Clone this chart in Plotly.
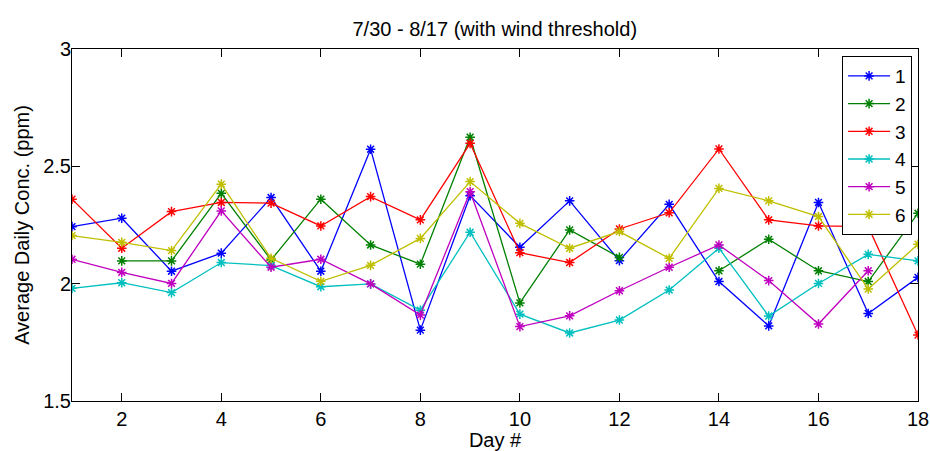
import plotly.graph_objects as go

days = list(range(1, 19))
series_names = ["1", "2", "3", "4", "5", "6"]
s1 = [2.243, 2.279, 2.053, 2.13, 2.367, 2.053, 2.573, 1.802, 2.375, 2.155, 2.353, 2.098, 2.338, 2.009, 1.82, 2.346, 1.873, 2.027]
s2 = [None, 2.097, 2.097, 2.385, 2.101, 2.36, 2.165, 2.083, 2.624, 1.918, 2.229, 2.112, None, 2.055, 2.189, 2.055, 2.009, 2.3]
s3 = [2.36, 2.151, 2.307, 2.346, 2.343, 2.246, 2.371, 2.272, 2.598, 2.132, 2.09, 2.233, 2.302, 2.574, 2.272, 2.246, 2.243, 1.781]
s4 = [1.98, 2.004, 1.962, 2.09, 2.077, 1.987, 1.999, 1.887, 2.219, 1.87, 1.79, 1.845, 1.973, 2.151, 1.862, 2.001, 2.125, 2.097]
s5 = [2.104, 2.048, 2.001, 2.31, 2.07, 2.104, 1.999, 1.866, 2.392, 1.817, 1.863, 1.97, 2.07, 2.165, 2.013, 1.828, 2.055, None]
s6 = [2.205, 2.176, 2.141, 2.424, 2.108, 2.01, 2.078, 2.193, 2.435, 2.257, 2.151, 2.222, 2.108, 2.406, 2.353, 2.286, 1.977, 2.168]
x_ticks = [2, 4, 6, 8, 10, 12, 14, 16, 18]
y_ticks = [1.5, 2, 2.5, 3]

colors = ["#0000ff", "#008000", "#ff0000", "#00bfbf", "#bf00bf", "#bfbf00"]
all_series = [s1, s2, s3, s4, s5, s6]

FONT = "Liberation Sans, Arial, sans-serif"

fig = go.Figure()
for name, vals, c in zip(series_names, all_series, colors):
    fig.add_trace(go.Scatter(
        x=days, y=vals, name=name, mode="lines+markers",
        line=dict(color=c, width=1.3),
        marker=dict(symbol="asterisk-open", size=8, color=c, line=dict(color=c, width=1.5)),
        connectgaps=False,
    ))

axis_common = dict(
    showline=True, linecolor="black", linewidth=1, mirror="ticks",
    ticks="inside", ticklen=8, tickcolor="black", showgrid=False, zeroline=False,
    ticklabeloverflow="allow", automargin=False,
    tickfont=dict(family=FONT, size=20, color="black"),
)

fig.update_layout(
    width=930, height=451,
    margin=dict(l=72, r=12, t=49, b=50),
    paper_bgcolor="white", plot_bgcolor="white",
    title=dict(text="7/30 - 8/17 (with wind threshold)", x=0.532, xanchor="center",
               y=0.935, yanchor="middle", automargin=False,
               font=dict(family=FONT, size=20, color="black")),
    xaxis=dict(range=[1, 18], tickvals=x_ticks, ticktext=[str(v) for v in x_ticks],
               title=dict(text="Day #", font=dict(family=FONT, size=20, color="black"), standoff=1),
               **axis_common),
    yaxis=dict(range=[1.5, 3], tickvals=y_ticks, ticktext=["1.5", "2", "2.5", "3"],
               ticklabelstandoff=-4,
               title=dict(text="Average Daily Conc. (ppm)", font=dict(family=FONT, size=20, color="black"), standoff=8),
               **axis_common),
    legend=dict(x=0.993, y=0.98, xanchor="right", yanchor="top",
                bgcolor="white", bordercolor="black", borderwidth=1,
                font=dict(family=FONT, size=19, color="black"),
                itemwidth=42, tracegroupgap=0),
    showlegend=True,
)

fig.write_html("out.html", config={"displayModeBar": False},
               post_script="document.body.style.margin='0';")
